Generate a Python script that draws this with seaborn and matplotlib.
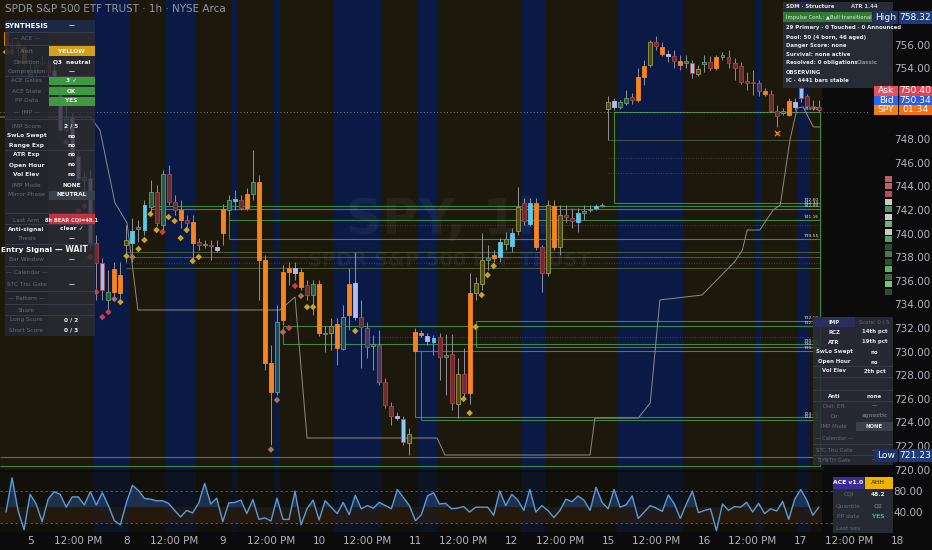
import numpy as np
import pandas as pd
import seaborn as sns
import matplotlib.pyplot as plt
from matplotlib.patches import Rectangle
from matplotlib.transforms import blended_transform_factory

# ---------------- data ----------------
opens = [757.09, 756.16, 756.16, 755.82, 753.27, 753.61, 754.38, 754.46, 752.60, 748.78,
         748.78, 746.58, 744.63, 744.55, 739.21, 739.21, 735.22, 734.38, 737.00, 736.49,
         739.04, 739.21, 740.39, 740.31, 742.26, 743.53, 740.73, 745.05, 742.68, 742.00,
         741.16, 740.99, 739.29, 739.04, 739.04, 738.61, 742.09, 742.00, 742.77, 742.85,
         743.36, 743.36, 744.38, 737.77, 729.04, 726.58, 736.75, 737.09, 736.66, 736.75,
         735.65, 734.80, 735.73, 731.49, 731.58, 732.34, 730.22, 735.73, 732.93, 732.93,
         732.00, 730.48, 730.56, 727.43, 725.39, 724.37, 722.34, 722.26, 730.05, 731.41,
         730.90, 730.82, 731.24, 729.54, 729.80, 725.56, 728.10, 726.49, 734.97, 735.73,
         737.77, 737.93, 738.02, 739.12, 738.95, 740.22, 742.60, 740.82, 742.60, 738.87,
         736.66, 742.34, 738.87, 741.58, 741.32, 740.99, 741.75, 742.00, 742.17, 742.34,
         750.56, 750.73, 750.73, 751.07, 751.58, 751.33, 753.27, 754.29, 756.24, 755.82,
         755.05, 755.05, 754.63, 754.46, 753.61, 753.53, 754.38, 754.55, 754.04, 754.97,
         754.97, 754.46, 754.21, 752.94, 752.85, 752.77, 752.09, 751.83, 750.39, 750.22,
         750.05, 750.73, 751.49, 751.66, 750.82, 750.73]
closes = [755.99, 755.82, 755.73, 754.55, 753.61, 754.29, 754.55, 753.70, 753.87, 752.51,
          749.88, 749.88, 746.58, 744.80, 744.71, 737.51, 737.51, 735.05, 735.05, 734.97,
          739.46, 740.22, 740.56, 742.43, 743.53, 740.90, 745.05, 742.68, 742.00, 741.16,
          740.90, 739.21, 739.04, 739.12, 738.95, 738.87, 740.05, 742.85, 742.93, 742.17,
          742.17, 744.38, 737.77, 729.04, 726.58, 732.51, 732.68, 736.75, 737.09, 735.48,
          734.80, 735.73, 731.58, 731.58, 732.17, 730.31, 732.93, 733.10, 735.82, 732.09,
          730.39, 730.65, 727.43, 725.48, 724.54, 724.54, 724.29, 723.02, 731.66, 731.58,
          731.32, 731.15, 729.54, 729.71, 725.65, 728.10, 726.49, 734.97, 735.82, 737.77,
          737.93, 738.19, 739.29, 739.55, 740.05, 742.26, 741.07, 742.60, 738.87, 736.66,
          742.43, 738.87, 741.58, 741.41, 741.07, 741.75, 741.92, 742.09, 742.34, 742.43,
          751.16, 751.24, 751.16, 751.49, 751.33, 753.27, 754.21, 756.24, 755.90, 755.22,
          755.22, 754.63, 754.29, 754.63, 754.46, 753.95, 754.55, 754.04, 754.97, 755.14,
          754.46, 754.04, 752.85, 752.77, 752.77, 752.09, 751.83, 750.39, 749.97, 750.39,
          751.24, 751.16, 752.34, 750.82, 750.65, 750.48]
highs = [757.60, 756.58, 756.41, 756.07, 754.46, 754.72, 755.14, 754.72, 754.55, 753.02,
         751.07, 750.31, 747.09, 745.22, 745.39, 739.88, 737.93, 736.92, 737.60, 737.60,
         740.73, 741.32, 741.16, 742.85, 744.55, 744.12, 745.39, 745.82, 743.27, 742.85,
         741.58, 741.58, 739.63, 739.46, 739.46, 739.46, 742.51, 743.27, 743.70, 743.27,
         743.87, 747.09, 744.97, 738.19, 730.56, 733.95, 737.34, 737.60, 737.60, 737.09,
         736.07, 736.07, 736.07, 732.17, 732.85, 732.85, 733.95, 737.09, 738.44, 734.38,
         732.51, 731.41, 731.83, 727.76, 725.73, 724.88, 724.54, 723.53, 732.00, 731.83,
         731.58, 731.41, 731.58, 731.49, 731.49, 729.46, 730.31, 736.66, 736.32, 740.05,
         739.04, 738.61, 739.63, 740.14, 740.48, 743.95, 743.02, 743.02, 743.02, 739.04,
         742.85, 742.85, 742.43, 742.43, 742.17, 742.17, 742.43, 742.43, 742.51, 742.60,
         751.66, 751.49, 751.33, 752.17, 751.92, 754.04, 754.72, 756.41, 756.75, 756.24,
         755.56, 755.56, 755.14, 755.14, 754.72, 754.29, 755.14, 755.05, 755.14, 755.39,
         755.56, 754.88, 754.55, 753.70, 753.87, 753.02, 752.34, 752.17, 750.90, 750.65,
         751.49, 751.49, 752.68, 751.83, 751.33, 751.33]
lows = [755.56, 755.39, 755.14, 754.21, 753.19, 753.19, 754.29, 753.36, 752.43, 748.61,
        748.61, 746.41, 744.38, 742.85, 738.61, 734.38, 734.38, 733.53, 734.38, 734.54,
        737.60, 737.60, 739.29, 739.88, 741.83, 740.65, 740.31, 742.43, 741.58, 740.48,
        740.14, 737.77, 738.61, 738.78, 737.77, 738.44, 739.04, 741.58, 742.00, 742.00,
        742.00, 742.85, 734.38, 728.44, 722.09, 726.32, 732.26, 735.65, 736.07, 735.22,
        734.38, 733.10, 731.32, 729.97, 730.14, 728.87, 730.14, 731.83, 732.68, 728.61,
        729.46, 728.44, 727.17, 725.22, 723.78, 724.21, 722.09, 721.23, 729.97, 731.24,
        730.56, 729.71, 727.59, 726.32, 725.05, 724.37, 725.90, 725.56, 734.38, 735.22,
        736.92, 737.60, 737.60, 738.61, 738.44, 739.88, 740.73, 740.65, 738.61, 735.05,
        736.41, 738.61, 738.19, 740.99, 740.48, 740.14, 741.16, 741.83, 742.00, 742.26,
        747.93, 750.48, 750.56, 750.90, 750.99, 751.16, 752.60, 754.12, 755.56, 755.05,
        754.55, 754.04, 753.87, 754.04, 753.19, 753.36, 753.70, 753.87, 753.87, 754.72,
        754.04, 753.02, 752.68, 752.17, 751.75, 751.66, 751.66, 750.31, 749.04, 750.05,
        749.97, 750.48, 751.16, 750.65, 750.48, 750.31]
kinds = list("OROOCGGRBBGBBGBRBGOO" "YCGCGRGRRORORGRLOGCR" "OGOOOTOOLORGOGYOTOLR"
             "PGPRRLBYOOLCRGRYROYY" "GOCYCYRCORYOYRRCGGCG" "YLGGROOYROLROGBYGROG"
             "RRRRRPORRGOLBRRR")

# oscillator (lower pane)
osc = [40.6, 105, 43.6, 7.3, 73.9, 55.8, 22.4, 64.8, 78.8, 73.9,
       49.7, 69.1, 69.1, 53.9, 78.8, 53.9, 77.0, 52.7, 24.2, 16.4,
       58.8, 90.9, 81.2, 66.1, 64.8, 61.8, 61.8, 57.0, 43.6, 31.5,
       43.6, 38.8, 57.6, 94.5, 55.8, 66.7, 22.4, 57.6, 58.8, 63.0,
       37.6, 64.2, 26.7, 29.7, 23.6, 66.7, 26.7, 26.7, 80.0, 16.4,
       46.7, 63.0, 25.5, 61.8, 49.7, 37.6, 58.8, 35.8, 72.1, 46.7,
       52.7, 47.9, 58.8, 52.7, 46.7, 83.0, 67.9, 52.7, 24.2, 35.8,
       70.9, 77.0, 55.8, 57.0, 46.7, 47.9, 50.9, 40.6, 49.7, 49.7,
       49.7, 34.5, 80.0, 52.7, 73.9, 63.0, 43.6, 83.0, 40.6, 52.7,
       43.6, 30.3, 43.6, 64.8, 60.0, 70.9, 63.0, 43.6, 87.3, 58.8,
       46.7, 83.0, 49.7, 54.5, 70.9, 28.5, 40.6, 52.7, 47.9, 41.8,
       72.7, 55.8, 28.5, 55.8, 80.0, 39.4, 43.6, 46.7, 5.5, 55.8,
       43.6, 50.9, 49.7, 58.8, 40.6, 57.0, 37.6, 46.7, 42.4, 60.6,
       26.7, 64.8, 83.0, 63.0, 34.5, 49.7]

# session shading (bar ranges)
blue_start = [15, 27, 38, 45, 55, 69, 86, 102, 125, 132]
blue_end = [20, 31, 38, 45, 62, 71, 89, 112, 125, 133]

# trailing gray line
trail_x = [-1, 14, 15.6, 18.1, 20.1, 21.9, 45.5, 48, 50, 71.6, 72.9, 97, 97.8, 105,
           107, 108.6, 115.6, 121, 122.3, 123.1, 125.2, 127.4, 128.6, 130.2, 131.4,
           132.4, 134.1, 135.2]
trail_px = [749.88, 749.88, 748.78, 742.60, 740.90, 733.53, 733.53, 734.63, 722.68,
            722.68, 721.24, 721.24, 724.37, 724.37, 725.65, 734.38, 734.80, 737.60,
            738.61, 740.31, 740.31, 742.00, 742.43, 747.93, 750.65, 750.73, 749.04, 749.04]

# structure levels
lvl_px = [750.31, 747.93, 746.41, 745.14, 742.60, 742.34, 742.09, 741.16, 740.73, 739.55,
          738.44, 738.02, 737.51, 737.09, 732.60, 732.17, 731.24, 730.65, 730.39, 730.05,
          724.46, 724.21, 721.07, 720.32]
lvl_from = [101, 100, 100, 100, 101, 24, 24, 37, 60, 37,
            20, 20, 20, 20, 78, 46, 60, 46, 78, 68,
            68, 69, -1, -1]
lvl_kind = ["g", "d", ":", ":", "g", "g", "g", "g", ":", "g",
            "f", "f", ":", "f", "g", "g", ":", "g", "g", "g",
            "g", "g", "g", "g"]
vert_i = [101, 37, 46, 68, 69, 78, 135.2]
vert_lo = [742.60, 739.55, 730.65, 724.46, 724.21, 730.39, 720.32]
vert_hi = [750.31, 742.09, 732.17, 730.05, 730.05, 732.60, 750.31]

# diamond markers
marks_i = [0, 1, 10, 12, 13, 14, 15, 16, 17, 18, 19, 20, 21, 22, 23, 24, 25, 26, 27, 28,
           29, 30, 31, 32, 44, 45, 46, 47, 48, 49, 50, 51, 58, 76, 77, 78, 79, 80, 81]
marks_px = [755.39, 755.39, 747.77, 741.92, 742.34, 738.02, 735.05, 732.93, 733.36, 734.46,
            734.21, 738.10, 738.02, 738.70, 739.46, 741.66, 740.31, 740.14, 741.41, 741.07,
            739.63, 740.31, 737.68, 738.02, 721.70, 725.90, 731.66, 732.00, 735.57, 734.72,
            733.78, 733.78, 731.75, 725.99, 724.80, 732.09, 734.80, 736.49, 737.26]
marks_kind = ["y", "y", "t", "r", "r", "r", "r", "r", "r", "t", "y", "y", "t", "y", "y", "y",
              "y", "r", "y", "y", "y", "y", "y", "y", "t", "t", "t", "r", "r", "t", "y", "y",
              "y", "y", "y", "y", "y", "y", "y"]

day_names = ["5", "8", "9", "10", "11", "12", "15", "16", "17", "18"]
price_high, price_low = 758.32, 721.23
ask, bid = 750.40, 750.34

left_labels = ["SYNTHESIS", "— ACE —", "Alert", "Direction", "Compression", "ACE Gates",
               "ACE State", "PP Data", "— IMP —", "IMP Score", "SwLo Swept", "Range Exp",
               "ATR Exp", "Open Hour", "Vol Elev", "IMP Mode", "Mirror Phase", "",
               "Last Arm", "Anti-signal", "Thesis", "Entry Signal", "Bar Window",
               "— Calendar —", "STC Thu Gate", "— Pattern —", "Share", "Long Score",
               "Short Score"]
left_values = ["—", "", "YELLOW", "Q3  neutral", "—", "3 ✓", "OK", "YES", "", "2 / 5",
               "no", "no", "no", "no", "no", "NONE", "NEUTRAL", "", "8h BEAR CQI=48.1",
               "clear ✓", "—", "— WAIT", "—", "", "—", "", "", "0 / 2", "0 / 3"]
left_style = "hdddddddddbbbbbddddbdeddddddd"
left_fill = {2: "#d4a21a", 5: "#3d9a40", 6: "#3d9a40", 7: "#3d9a40", 16: "#3c404b",
             18: "#c7313f"}

sdm_rows = ["SDM · Structure", "Impulse Cont.: ▲Bull transitional",
            "29 Primary · 0 Touched · 0 Announced", "Pool: 50 (4 born, 46 aged)",
            "Danger Score: none", "Survival: none active", "Resolved: 0 obligations",
            "OBSERVING", "IC · 4441 bars stable"]
sdm_right = ["ATR 1.44", "", "", "", "", "", "Classic", "", ""]

imp_labels = ["IMP", "RCZ", "ATR", "SwLo Swept", "Open Hour", "Vol Elev", "", "Anti",
              "Dist. Eff.", "Dir", "IMP Mode", "— Calendar —", "STC Thu Gate", "SYNTH Gate"]
imp_values = ["Score: 0 / 5", "14th pct", "19th pct", "no", "no", "2th pct", "", "none",
              "—", "agnostic", "NONE", "", "—", "—"]
imp_style = "hbbbbbbbdddddd"

ace_labels = ["ACE v1.0", "CQI", "Quantile", "PP data", "Last sev"]
ace_values = ["AHH", "48.2", "Q2", "YES", ""]

heat_colors = ["#e06c75", "#e06c75", "#d95763", "#eeeeee", "#5fa86a", "#eeeeee", "#7fd17f",
               "#eeeeee", "#5fbf6a", "#2e5e3a", "#4f8f5a", "#2e5e3a", "#6fcf7a", "#3e7e4a",
               "#8fe08f", "#2e5e3a"]

# ---------------- figure ----------------
sns.set_theme(style="dark")
plt.rcParams["font.family"] = ["DejaVu Sans"]

W, H = 932, 550
AX_R = 870
fig = plt.figure(figsize=(W / 100, H / 100), dpi=100, facecolor="#0b0b0b")
ax = fig.add_axes([0, 1 - 470 / H, AX_R / W, 470 / H])
ax2 = fig.add_axes([0, 1 - 532 / H, AX_R / W, 60 / H], sharex=ax)
for a in (ax, ax2):
    a.set_facecolor("#0b0b0b")
    a.grid(False)
    for s in a.spines.values():
        s.set_visible(False)

n = len(opens)
idx = np.arange(n)
last = n - 0.5

# background sessions
ax.axvspan(-1.5, last, color="#1c180b", lw=0, zorder=0)
ax2.axvspan(-1.5, last, color="#17140b", lw=0, alpha=0.6, zorder=0)
for s0, s1 in zip(blue_start, blue_end):
    ax.axvspan(s0 - 0.5, s1 + 0.5, color="#0a1a44", lw=0, zorder=0.1)
    ax2.axvspan(s0 - 0.5, s1 + 0.5, color="#0a1630", lw=0, alpha=0.7, zorder=0.1)

# levels
lvl_style = {"g": ("#4caf50", "-", 0.8, 0.75), "f": ("#5f7f45", "-", 0.7, 0.7),
             "d": ("#6b7a55", "-", 0.7, 0.6), ":": ("#7a7a60", (0, (1, 2)), 0.6, 0.6)}
for p, f0, k in zip(lvl_px, lvl_from, lvl_kind):
    col, ls, lw, al = lvl_style[k]
    ax.hlines(p, f0, 135.2, color=col, ls=ls, lw=lw, alpha=al, zorder=1.5)
    if k == "g" and f0 > 0:
        ax.text(135.0, p + 0.05, f"{p:.2f}", fontsize=3.2, color="#e0e0e0",
                ha="right", va="bottom", zorder=6)
ax.vlines(vert_i, vert_lo, vert_hi, color="#4caf50", lw=0.8, alpha=0.75, zorder=1.5)

# trailing line
sns.lineplot(x=trail_x, y=trail_px, ax=ax, color="#8c8c84", lw=0.7, estimator=None,
             sort=False, zorder=1.6)

# current price dotted line
ax.axhline(bid, color="#9598a1", lw=0.6, ls=(0, (1, 3)), zorder=1.7)

# candles
kind_face = {"O": "#f7841e", "R": "#6e2c2a", "B": "#8ec9f5", "C": "#5cc8ea", "G": "#2a5a3c",
             "Y": "#4a4a22", "T": "#1e4a55", "L": "#b3bcf2", "P": "#4c3458"}
kind_edge = {"O": "#f7841e", "R": "#a2434a", "B": "#b04a55", "C": "#5cc8ea", "G": "#5aa070",
             "Y": "#9a9a45", "T": "#4aa0b8", "L": "#b3bcf2", "P": "#7a5a8a"}
o = np.array(opens)
c = np.array(closes)
body_lo = np.minimum(o, c)
body_h = np.maximum(np.abs(c - o), 0.07)
ax.vlines(idx, lows, highs, color="#8e919b", lw=0.7, zorder=2)
ax.bar(idx, body_h, bottom=body_lo, width=0.66, color=[kind_face[k] for k in kinds],
       edgecolor=[kind_edge[k] for k in kinds], linewidth=0.6, zorder=3)

# markers
marks = pd.DataFrame({"i": marks_i, "p": marks_px, "k": marks_kind})
sns.scatterplot(data=marks, x="i", y="p", hue="k", ax=ax, marker="D", s=11, linewidth=0,
                palette={"y": "#c9a227", "r": "#c2414b", "t": "#a8735a"}, legend=False,
                zorder=4)
ax.scatter([128], [748.53], marker="x", s=14, color="#f57c00", lw=1.0, zorder=4)

# watermark
ax.text(0.517, 0.532, "SPY, 1h", transform=ax.transAxes, fontsize=36, color="white",
        alpha=0.05, weight="bold", ha="center", va="center", zorder=1)
ax.text(0.517, 0.445, "SPDR S&P 500 ETF TRUST", transform=ax.transAxes, fontsize=14,
        color="white", alpha=0.05, weight="bold", ha="center", va="center", zorder=1)

ax.set_xlim(-1.0, 143.5)
ax.set_ylim(719.97, 759.8)
ax.set_xlabel("")
ax.set_ylabel("")
yt = [v for v in range(720, 758, 2) if v not in (750, 752)]
ax.set_yticks(yt)
ax.set_yticklabels([f"{v:.2f}" for v in yt])
ax.yaxis.tick_right()
ax.tick_params(axis="y", colors="#b2b5be", labelsize=7.5, length=0, pad=17)
ax.tick_params(axis="x", labelbottom=False, length=0)

# ---------------- oscillator ----------------
osc_arr = np.array(osc)
ax2.fill_between([-1.5, last], 20, 50, color="#3a240c", alpha=0.45, lw=0, zorder=0.2)
ax2.fill_between(idx, 50, osc_arr, where=osc_arr > 50, interpolate=True,
                 color="#2b4c7e", alpha=0.55, lw=0, zorder=1)
ax2.fill_between(idx, 50, osc_arr, where=osc_arr < 50, interpolate=True,
                 color="#1a1a1a", alpha=0.6, lw=0, zorder=1)
for lv in (80, 20):
    ax2.axhline(lv, color="#5a5d66", lw=0.6, ls=(0, (3, 3)), zorder=0.5)
sns.lineplot(x=idx, y=osc_arr, ax=ax2, color="#5b9bd5", lw=1.0, estimator=None, zorder=2)
ax2.set_ylim(3, 116)
ax2.set_xlabel("")
ax2.set_ylabel("")
ax2.set_yticks([40, 80])
ax2.set_yticklabels(["40.00", "80.00"])
ax2.yaxis.tick_right()
ax2.tick_params(axis="y", colors="#b2b5be", labelsize=7.5, length=0, pad=17)
xt = []
xl = []
for k, d in enumerate(day_names[:-1]):
    xt += [4 + 16 * k, 12 + 16 * k]
    xl += [d, "12:00 PM"]
ax2.set_xticks(xt)
ax2.set_xticklabels(xl)
ax2.tick_params(axis="x", colors="#b2b5be", labelsize=7.5, length=0, pad=3)
ax2.text(4 + 16 * 9, -0.075, day_names[-1], transform=ax2.get_xaxis_transform(),
         color="#b2b5be", fontsize=7.5, ha="center", va="top", clip_on=False)
ax2.set_xlim(-1.0, 143.5)


# ---------------- overlay UI ----------------
def box(x0, y0, x1, y1, fc, alpha=1.0, z=5):
    fig.add_artist(Rectangle((x0 / W, 1 - y1 / H), (x1 - x0) / W, (y1 - y0) / H,
                             transform=fig.transFigure, fc=fc, ec="none", alpha=alpha,
                             zorder=z))


def label(x, y, s, size=4.5, color="#d1d4dc", ha="center", weight="bold"):
    fig.text(x / W, 1 - y / H, s, fontsize=size, color=color, ha=ha, va="center",
             weight=weight, zorder=7)


def edges(centers, top, bottom):
    mids = [(a + b) / 2 for a, b in zip(centers[:-1], centers[1:])]
    return [top] + mids, mids + [bottom]


fig.text(5 / W, 1 - 9 / H, "SPDR S&P 500 ETF TRUST · 1h · NYSE Arca", fontsize=7.5,
         color="#9598a1", va="center")

# left synthesis table
lt_y = [26, 39, 52, 62, 72, 81, 91, 101, 113, 126, 136, 146, 155, 165, 175, 185, 195, 207,
        220, 229, 239, 250, 260, 273, 285, 298, 311, 320, 330]
tops, bots = edges(lt_y, 20, 336)
box(5, 20, 95, 336, "#2a2e39", 0.8)
box(5, 20, 48, 336, "#1f222b", 0.45)
for r, (lab, val, st) in enumerate(zip(left_labels, left_values, left_style)):
    y0, y1 = tops[r], bots[r]
    box(5, y1 - 0.4, 95, y1 + 0.4, "#3a3e4a", 0.9, z=5.5)
    if st == "h":
        box(5, y0, 95, y1, "#1e2945", 0.95)
    if r in left_fill:
        box(48.5, y0 + 0.6, 95, y1 - 0.6, left_fill[r], 1.0, z=5.6)
    lc = {"h": "#ffffff", "d": "#686b76", "b": "#e6e8ee", "e": "#ffffff"}[st]
    lw_ = "normal" if st == "d" else "bold"
    ls_ = 5.3 if st == "e" else (5.0 if st == "h" else 4.2)
    label(26.5, lt_y[r], lab, ls_, lc, weight=lw_)
    vs = 5.6 if st == "e" else (3.7 if r == 18 else 4.2)
    label(71.5, lt_y[r], val, vs, "#f0f0f0")

# SDM structure table
sdm_y = [7, 17, 28, 37, 46, 54, 62, 73, 81]
box(783, 2, 893, 88, "#2a2e39", 0.93)
box(783, 12, 872, 22, "#2e7d32", 1.0, z=5.6)
for r, (t, tr) in enumerate(zip(sdm_rows, sdm_right)):
    label(786, sdm_y[r], t, 3.8 if r == 1 else 3.9, "#e6e8ee", ha="left",
          weight="normal" if r == 1 else "bold")
    if tr:
        label(878, sdm_y[r], tr, 3.9, "#c8cad0" if r == 0 else "#8a8d96", ha="right")

# heat column
for r, col in enumerate(heat_colors):
    box(885, 176 + r * 7.5, 892, 182 + r * 7.5, col, 0.85)

# IMP table
imp_y = [322, 332, 342, 352, 362, 371, 384, 397, 406, 416, 426, 438, 451, 460]
tops, bots = edges(imp_y, 317, 465)
box(813, 317, 893, 465, "#2a2e39", 0.88)
for r, (lab, val, st) in enumerate(zip(imp_labels, imp_values, imp_style)):
    y0, y1 = tops[r], bots[r]
    box(813, y1 - 0.4, 893, y1 + 0.4, "#3a3e4a", 0.9, z=5.5)
    if st == "h":
        box(813, y0, 855, y1, "#2b2d5c", 1.0, z=5.6)
    if lab == "IMP Mode":
        box(855.5, y0 + 0.6, 893, y1 - 0.6, "#3c404b", 1.0, z=5.6)
    lc = "#686b76" if st == "d" else "#e6e8ee"
    label(834, imp_y[r], lab, 3.9, lc, weight="normal" if st == "d" else "bold")
    vc = "#686b76" if st in "hd" and val not in ("NONE",) else "#e6e8ee"
    label(874.5, imp_y[r], val, 3.9, vc, weight="normal" if st == "h" else "bold")

# ACE table
ace_y = [483, 494, 506, 517, 528]
tops, bots = edges(ace_y, 477, 533)
box(833, 477, 893, 533, "#2a2e39", 0.9)
box(833, 477, 864, bots[0], "#3a2a9a", 1.0, z=5.6)
box(864.5, 477, 893, bots[0], "#f0b400", 1.0, z=5.6)
for r, (lab, val) in enumerate(zip(ace_labels, ace_values)):
    label(848.5, ace_y[r], lab, 4.4 if r == 0 else 4.2,
          "#ffffff" if r == 0 else "#686b76", weight="bold" if r == 0 else "normal")
    vc = {0: "#7a5a00", 1: "#f0f0f0", 2: "#686b76", 3: "#26c281"}.get(r, "#686b76")
    label(878.5, ace_y[r], val, 4.2, vc)

# price scale badges
tb = blended_transform_factory(fig.transFigure, ax.transData)


def badge(x0, x1, p, h, fc, txt):
    fig.add_artist(Rectangle((x0 / W, p - h / 2), (x1 - x0) / W, h, transform=tb, fc=fc,
                             ec="none", zorder=8))
    fig.text((x0 + x1) / 2 / W, p, txt, transform=tb, fontsize=6.6, color="white",
             ha="center", va="center", zorder=9)


pu = 1 / 11.8  # one pixel in price units
badge(874, 898, price_high, 13 * pu, "#1c3366", "High")
badge(899, 932, price_high, 13 * pu, "#1e3c7a", f"{price_high:.2f}")
badge(874, 898, price_low, 13 * pu, "#1c3366", "Low")
badge(899, 932, price_low, 13 * pu, "#1e3c7a", f"{price_low:.2f}")
spy_p = closes[-1]
badge(874, 898, spy_p + 19 * pu, 9.5 * pu, "#e8505e", "Ask")
badge(899, 932, spy_p + 19 * pu, 9.5 * pu, "#e04452", f"{ask:.2f}")
badge(874, 898, spy_p + 9.5 * pu, 9.5 * pu, "#2f66e8", "Bid")
badge(899, 932, spy_p + 9.5 * pu, 9.5 * pu, "#2a5ee0", f"{bid:.2f}")
badge(874, 898, spy_p, 9.5 * pu, "#f57f17", "SPY")
badge(899, 932, spy_p, 9.5 * pu, "#f07010", "01:34")

fig.savefig("out.png", dpi=100, facecolor=fig.get_facecolor())
